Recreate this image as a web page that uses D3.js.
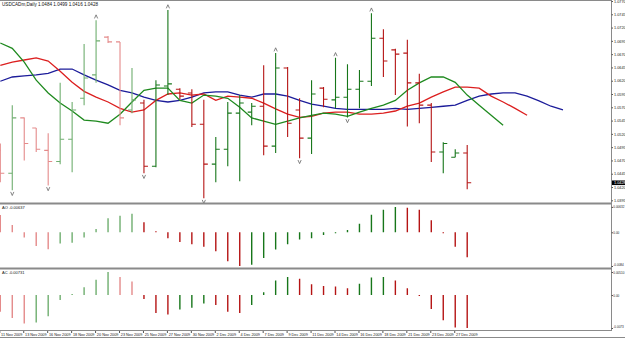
<!DOCTYPE html>
<html>
<head>
<meta charset="utf-8">
<script src="https://cdnjs.cloudflare.com/ajax/libs/d3/7.8.5/d3.min.js"></script>
<style>
  body { margin: 0; background: #fff; }
  svg { display: block; font-family: "Liberation Sans", Arial, sans-serif; }
</style>
</head>
<body>
<div id="chart"></div>
<script>
var svgWidth = 625;
var svgHeight = 339;

// daily USDCAD bars
var opens  = [1.0489,1.0446,1.0550,1.0531,1.0489,1.0468,1.0510,1.0587,1.0631,1.0702,
              1.0693,1.0565,1.0578,1.0459,1.0610,1.0604,1.0597,1.0538,1.0463,1.0491,
              1.0559,1.0561,1.0572,1.0497,1.0644,1.0565,1.0512,1.0606,1.0584,1.0589,
              1.0604,1.0619,1.0700,1.0678,1.0672,1.0616,1.0574,1.0486,1.0476,1.0484];
var highs  = [1.0502,1.0574,1.0551,1.0531,1.0521,1.0616,1.0580,1.0689,1.0734,1.0704,
              1.0693,1.0644,1.0584,1.0621,1.0753,1.0606,1.0604,1.0584,1.0514,1.0580,
              1.0593,1.0578,1.0649,1.0672,1.0646,1.0587,1.0621,1.0608,1.0663,1.0651,
              1.0640,1.0747,1.0717,1.0680,1.0697,1.0633,1.0578,1.0504,1.0491,1.0499];
var lows   = [1.0429,1.0414,1.0470,1.0486,1.0423,1.0463,1.0448,1.0574,1.0616,1.0691,
              1.0536,1.0559,1.0446,1.0457,1.0593,1.0585,1.0533,1.0399,1.0429,1.0459,
              1.0431,1.0536,1.0480,1.0484,1.0514,1.0474,1.0482,1.0570,1.0568,1.0551,
              1.0568,1.0610,1.0627,1.0593,1.0534,1.0540,1.0467,1.0446,1.0476,1.0416];
var closes = [1.0446,1.0550,1.0502,1.0491,1.0468,1.0510,1.0565,1.0625,1.0695,1.0693,
              1.0550,1.0584,1.0459,1.0612,1.0614,1.0591,1.0538,1.0463,1.0491,1.0559,
              1.0578,1.0572,1.0497,1.0644,1.0540,1.0512,1.0595,1.0585,1.0589,1.0604,
              1.0619,1.0700,1.0657,1.0670,1.0616,1.0574,1.0486,1.0502,1.0484,1.0428];

var dateLabels = ["11 Nov 2009","13 Nov 2009","16 Nov 2009","18 Nov 2009","20 Nov 2009",
                  "23 Nov 2009","25 Nov 2009","27 Nov 2009","30 Nov 2009","2 Dec 2009",
                  "4 Dec 2009","7 Dec 2009","9 Dec 2009","11 Dec 2009","14 Dec 2009",
                  "16 Dec 2009","18 Dec 2009","21 Dec 2009","23 Dec 2009","27 Dec 2009"];

// alligator lines (already shifted forward)
var lipsLine = [1.0691,1.0681,1.0655,1.0621,1.0597,1.0578,1.0563,1.0546,1.0544,1.0540,
                1.0557,1.0580,1.0602,1.0606,1.0606,1.0583,1.0578,1.0593,1.0591,1.0587,
                1.0570,1.0550,1.0544,1.0538,1.0544,1.0550,1.0555,1.0559,1.0557,1.0553,
                1.0561,1.0568,1.0574,1.0583,1.0602,1.0616,1.0627,1.0627,1.0617,1.0593,
                1.0574,1.0555,1.0536];
var teethLine = [1.0649,1.0655,1.0659,1.0663,1.0657,1.0638,1.0617,1.0600,1.0589,1.0580,
                 1.0568,1.0561,1.0565,1.0583,1.0595,1.0597,1.0593,1.0595,1.0583,1.0591,
                 1.0589,1.0587,1.0578,1.0567,1.0557,1.0551,1.0553,1.0559,1.0561,1.0561,
                 1.0557,1.0557,1.0559,1.0563,1.0572,1.0578,1.0589,1.0599,1.0608,1.0608,
                 1.0606,1.0591,1.0580,1.0568,1.0555];
var jawLine = [1.0619,1.0627,1.0629,1.0631,1.0634,1.0642,1.0642,1.0631,1.0621,1.0612,
               1.0602,1.0597,1.0589,1.0583,1.0580,1.0583,1.0589,1.0597,1.0599,1.0599,
               1.0593,1.0589,1.0595,1.0595,1.0591,1.0583,1.0576,1.0572,1.0568,1.0566,
               1.0566,1.0566,1.0566,1.0568,1.0566,1.0568,1.0570,1.0572,1.0574,1.0583,
               1.0591,1.0595,1.0597,1.0597,1.0591,1.0582,1.0572,1.0565];

// fractal bars
var fractalUp = [8, 14, 23, 28, 31];
var fractalDown = [1, 4, 12, 17, 25, 29];

// oscillators
var aoValues = [0.0043,0.0018,-0.0013,-0.0034,-0.0042,-0.0028,-0.0026,-0.0013,0.0008,0.0035,
                0.0041,0.0046,0.0025,0.0001,-0.0015,-0.0024,-0.0030,-0.0036,-0.0047,-0.0072,
                -0.0084,-0.0081,-0.0064,-0.0043,-0.0030,-0.0018,-0.0015,-0.0007,-0.0001,0.0006,
                0.0021,0.0044,0.0056,0.0063,0.0061,0.0056,0.0030,-0.0002,-0.0036,-0.0062];
var acValues = [-0.0037,-0.0051,-0.0063,-0.0061,-0.0047,-0.0011,0.0002,0.0017,0.0034,0.0051,
                0.0040,0.0030,-0.0009,-0.0040,-0.0043,-0.0032,-0.0028,-0.0019,-0.0022,-0.0037,
                -0.0040,-0.0022,0.0006,0.0032,0.0040,0.0036,0.0024,0.0020,0.0019,0.0015,
                0.0025,0.0039,0.0040,0.0032,0.0015,-0.0001,-0.0031,-0.0056,-0.0072,-0.0073];

var priceTicks = [1.0770,1.0745,1.0720,1.0695,1.0670,1.0645,1.0620,1.0595,
                  1.0570,1.0545,1.0520,1.0495,1.0470,1.0445,1.0420,1.0395];
var aoTicks = [0.00632, 0, -0.0084];
var aoTickLabels = ["0.00632", "0.00", "-0.0084"];
var acTicks = [0.0051, 0, -0.0073];
var acTickLabels = ["0.00510", "0.00", "-0.0073"];

var titleText = "USDCADm,Daily  1.0484 1.0499 1.0416 1.0428";
var aoTitle = "AO -0.00637";
var acTitle = "AC -0.00731";

var axisX = 611.5;
var fadedBefore = 12; // older bars drawn lighter, like the screenshot

var svg = d3.select("#chart")
  .append("svg")
  .attr("width", svgWidth)
  .attr("height", svgHeight);

svg.append("rect")
  .attr("width", svgWidth)
  .attr("height", svgHeight)
  .attr("fill", "#fff");

// scales
var x = d3.scaleLinear().domain([0, 39]).range([0.3, 467.2]);
var yPrice = d3.scaleLinear().domain([1.0395, 1.0770]).range([200.3, 1]);
var yAO = d3.scaleLinear().domain([-0.0084, 0.0063]).range([266, 207]);
var yAC = d3.scaleLinear().domain([-0.0073, 0.0051]).range([328, 272]);

function upColor(i) { return i < fadedBefore ? "#6fae6f" : "#17761a"; }
function downColor(i) { return i < fadedBefore ? "#e48a8a" : "#b51414"; }

// clip for each pane
var defs = svg.append("defs");
defs.append("clipPath").attr("id", "clipMain")
  .append("rect").attr("x", 0).attr("y", 1).attr("width", axisX).attr("height", 202);
defs.append("clipPath").attr("id", "clipAO")
  .append("rect").attr("x", 0).attr("y", 205).attr("width", axisX).attr("height", 63);
defs.append("clipPath").attr("id", "clipAC")
  .append("rect").attr("x", 0).attr("y", 270).attr("width", axisX).attr("height", 60);

// ---- main pane ----
var mainG = svg.append("g").attr("clip-path", "url(#clipMain)");

// alligator
var lineGen = d3.line()
  .x(function(d, i) { return x(i); })
  .y(function(d) { return yPrice(d); });

[[jawLine, "#1c1c9a"], [teethLine, "#dc1f1f"], [lipsLine, "#1f8a1f"]].forEach(function(l) {
  mainG.append("path")
    .datum(l[0])
    .attr("d", lineGen)
    .attr("fill", "none")
    .attr("stroke", l[1])
    .attr("stroke-width", 1.3);
});

// OHLC bars
var bars = mainG.selectAll("g.bar")
  .data(d3.range(opens.length))
  .enter()
  .append("g")
  .attr("class", "bar")
  .attr("stroke", function(i) { return closes[i] >= opens[i] ? upColor(i) : downColor(i); })
  .attr("stroke-width", 1.1);

bars.append("line")
  .attr("x1", function(i) { return x(i); })
  .attr("x2", function(i) { return x(i); })
  .attr("y1", function(i) { return yPrice(highs[i]); })
  .attr("y2", function(i) { return yPrice(lows[i]); });
bars.append("line")
  .attr("x1", function(i) { return x(i) - 4; })
  .attr("x2", function(i) { return x(i); })
  .attr("y1", function(i) { return yPrice(opens[i]); })
  .attr("y2", function(i) { return yPrice(opens[i]); });
bars.append("line")
  .attr("x1", function(i) { return x(i); })
  .attr("x2", function(i) { return x(i) + 4; })
  .attr("y1", function(i) { return yPrice(closes[i]); })
  .attr("y2", function(i) { return yPrice(closes[i]); });

// fractal arrows
mainG.selectAll("path.fup")
  .data(fractalUp)
  .enter()
  .append("path")
  .attr("class", "fup")
  .attr("d", function(i) {
    var cx = x(i), cy = yPrice(highs[i]) - 3.5;
    return "M" + (cx - 1.6) + "," + (cy + 1.8) + "L" + cx + "," + (cy - 1.8) + "L" + (cx + 1.6) + "," + (cy + 1.8);
  })
  .attr("fill", "none")
  .attr("stroke", "#666")
  .attr("stroke-width", 0.8);

mainG.selectAll("path.fdn")
  .data(fractalDown)
  .enter()
  .append("path")
  .attr("class", "fdn")
  .attr("d", function(i) {
    var cx = x(i), cy = yPrice(lows[i]) + 3.5;
    return "M" + (cx - 1.6) + "," + (cy - 1.8) + "L" + cx + "," + (cy + 1.8) + "L" + (cx + 1.6) + "," + (cy - 1.8);
  })
  .attr("fill", "none")
  .attr("stroke", "#666")
  .attr("stroke-width", 0.8);

// ---- oscillator panes ----
function drawHisto(values, yScale, clipId) {
  var g = svg.append("g").attr("clip-path", "url(#" + clipId + ")");
  g.selectAll("line")
    .data(values)
    .enter()
    .append("line")
    .attr("x1", function(d, i) { return x(i); })
    .attr("x2", function(d, i) { return x(i); })
    .attr("y1", yScale(0))
    .attr("y2", function(d) {
      var y = yScale(d);
      return Math.abs(y - yScale(0)) < 1 ? yScale(0) + (d < 0 ? 1 : -1) : y;
    })
    .attr("stroke", function(d, i) {
      var up = i > 0 && d > values[i - 1];
      return up ? upColor(i) : downColor(i);
    })
    .attr("stroke-width", 1.4);
}
drawHisto(aoValues, yAO, "clipAO");
drawHisto(acValues, yAC, "clipAC");

// ---- frame ----
var frame = svg.append("g").attr("stroke", "#8a8a8a");
frame.append("line").attr("x1", 0).attr("x2", axisX).attr("y1", 0.5).attr("y2", 0.5);
frame.append("line").attr("x1", 0).attr("x2", axisX).attr("y1", 203.5).attr("y2", 203.5).attr("stroke-width", 2);
frame.append("line").attr("x1", 0).attr("x2", axisX).attr("y1", 268.5).attr("y2", 268.5).attr("stroke-width", 2);
frame.append("line").attr("x1", 0).attr("x2", axisX).attr("y1", 330.5).attr("y2", 330.5);
frame.append("line").attr("x1", 0).attr("x2", svgWidth).attr("y1", 337.5).attr("y2", 337.5);
frame.append("line").attr("x1", axisX).attr("x2", axisX).attr("y1", 0).attr("y2", 331);

// ---- right axes ----
function styleAxis(g) {
  g.select(".domain").remove();
  g.selectAll(".tick line").attr("stroke", "#555");
  g.selectAll(".tick text").attr("font-size", 3.8).attr("fill", "#222")
    .attr("font-family", "Liberation Sans, Arial, sans-serif");
}
// oscillator labels are smaller to fit the narrow scale strip
function smallLabels(g) {
  g.selectAll(".tick text")
    .attr("font-size", 3.1)
    .attr("dy", function(d) { return d < 0 ? "-0.1em" : "0.32em"; });
}

svg.append("g")
  .attr("transform", "translate(" + axisX + ",0)")
  .call(d3.axisRight(yPrice).tickValues(priceTicks).tickSize(1.5).tickPadding(1)
    .tickFormat(d3.format(".4f")))
  .call(styleAxis);

svg.append("g")
  .attr("transform", "translate(" + axisX + ",0)")
  .call(d3.axisRight(yAO).tickValues(aoTicks).tickSize(1.5).tickPadding(0.3)
    .tickFormat(function(d, i) { return aoTickLabels[i]; }))
  .call(styleAxis)
  .call(smallLabels);

svg.append("g")
  .attr("transform", "translate(" + axisX + ",0)")
  .call(d3.axisRight(yAC).tickValues(acTicks).tickSize(1.5).tickPadding(0.3)
    .tickFormat(function(d, i) { return acTickLabels[i]; }))
  .call(styleAxis)
  .call(smallLabels);

// current price box
var lastClose = closes[closes.length - 1];
svg.append("rect")
  .attr("x", axisX + 0.5)
  .attr("y", yPrice(lastClose) - 2.3)
  .attr("width", 13)
  .attr("height", 4.6)
  .attr("fill", "#000");
svg.append("text")
  .attr("x", axisX + 2.5)
  .attr("y", yPrice(lastClose))
  .attr("dy", "0.35em")
  .attr("font-size", 3.8)
  .attr("fill", "#fff")
  .text(d3.format(".4f")(lastClose));

// ---- date axis ----
var dateG = svg.append("g");
dateG.selectAll("line")
  .data(dateLabels)
  .enter()
  .append("line")
  .attr("x1", function(d, k) { return x(k * 2) - 0.5; })
  .attr("x2", function(d, k) { return x(k * 2) - 0.5; })
  .attr("y1", 331)
  .attr("y2", 333)
  .attr("stroke", "#555");
dateG.selectAll("text")
  .data(dateLabels)
  .enter()
  .append("text")
  .attr("x", function(d, k) { return x(k * 2) + 0.8; })
  .attr("y", 335.8)
  .attr("font-size", 3.8)
  .attr("fill", "#222")
  .text(function(d) { return d; });

// ---- pane titles ----
svg.append("text").attr("x", 2).attr("y", 6).attr("font-size", 4.6).attr("fill", "#111").text(titleText);
svg.append("text").attr("x", 2).attr("y", 209).attr("font-size", 4).attr("fill", "#111").text(aoTitle);
svg.append("text").attr("x", 2).attr("y", 274).attr("font-size", 4).attr("fill", "#111").text(acTitle);
</script>
</body>
</html>
